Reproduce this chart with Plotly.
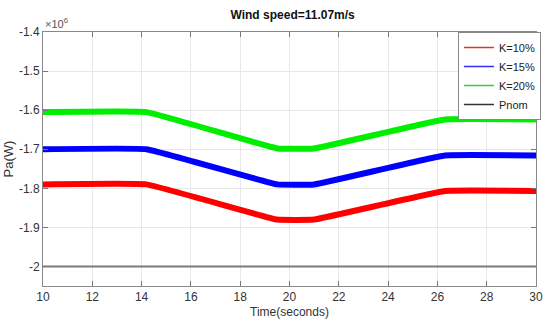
import plotly.graph_objects as go

time = [10, 14.2, 19.5, 21.0, 26.3, 30]
k10 = [-1.790e6, -1.790e6, -1.880e6, -1.880e6, -1.807e6, -1.807e6]
k15 = [-1.700e6, -1.700e6, -1.790e6, -1.790e6, -1.716e6, -1.716e6]
k20 = [-1.605e6, -1.605e6, -1.698e6, -1.698e6, -1.624e6, -1.624e6]
pnom_t = [10, 30]
pnom = [-2.0e6, -2.0e6]

yticks = [-2.0e6, -1.9e6, -1.8e6, -1.7e6, -1.6e6, -1.5e6, -1.4e6]
yticktext = ["-2", "-1.9", "-1.8", "-1.7", "-1.6", "-1.5", "-1.4"]
xticks = [10, 12, 14, 16, 18, 20, 22, 24, 26, 28, 30]

series = [
    ("K=10%", k10, "#ff0000", "#e03030"),
    ("K=15%", k15, "#0000ff", "#3030f0"),
    ("K=20%", k20, "#00ee00", "#30d030"),
]

fig = go.Figure()
fig.add_trace(go.Scatter(x=pnom_t, y=pnom, mode="lines", showlegend=False,
                         line=dict(color="#7a7a7a", width=2)))
for name, vals, col, lcol in series:
    fig.add_trace(go.Scatter(x=time, y=vals, mode="lines", showlegend=False,
                             line=dict(color=col, width=6, shape="spline", smoothing=0.25)))
for name, vals, col, lcol in series:
    fig.add_trace(go.Scatter(x=[30], y=[-1.4e6], mode="lines", name=name, hoverinfo="skip",
                             line=dict(color=lcol, width=1.5)))
fig.add_trace(go.Scatter(x=[30], y=[-1.4e6], mode="lines", name="Pnom", hoverinfo="skip",
                         line=dict(color="#333333", width=1.5)))

font = "Liberation Sans"
fig.update_layout(
    width=547, height=329,
    margin=dict(l=43, r=4, t=32, b=43),
    paper_bgcolor="white", plot_bgcolor="white",
    font=dict(family=font, size=12, color="#333333"),
    title=dict(text="<b>Wind speed=11.07m/s</b>", x=0.535, xanchor="center",
               y=0.955, yanchor="middle", font=dict(size=12, color="#111111")),
    legend=dict(x=1.01, xanchor="right", y=1.0, yanchor="top",
                bgcolor="white", bordercolor="#888888", borderwidth=1,
                font=dict(size=11, color="#222222"),
                itemwidth=30, tracegroupgap=0),
    showlegend=True,
)
fig.update_xaxes(range=[10, 30], tickvals=xticks, ticks="inside", ticklen=5,
                 tickcolor="#777777", showline=True, linecolor="#888888", mirror="ticks",
                 showgrid=True, gridcolor="#e8e8e8", zeroline=False,
                 title=dict(text="Time(seconds)", standoff=4, font=dict(size=12)),
                 tickfont=dict(size=12, color="#333333"))
fig.update_yaxes(range=[-2.05e6, -1.4e6], tickvals=yticks, ticktext=yticktext,
                 ticks="inside", ticklen=5, tickcolor="#777777", showline=True,
                 linecolor="#888888", mirror="ticks", showgrid=True, gridcolor="#e8e8e8",
                 zeroline=False,
                 title=dict(text="Pa(W)", standoff=2, font=dict(size=13)),
                 tickfont=dict(size=12, color="#333333"))
fig.add_annotation(xref="paper", yref="paper", x=0.0, y=1.0, xanchor="left", yanchor="bottom",
                   text="×10<sup>6</sup>", showarrow=False,
                   font=dict(family=font, size=11, color="#555555"), yshift=0)
fig.write_html("out.html")
